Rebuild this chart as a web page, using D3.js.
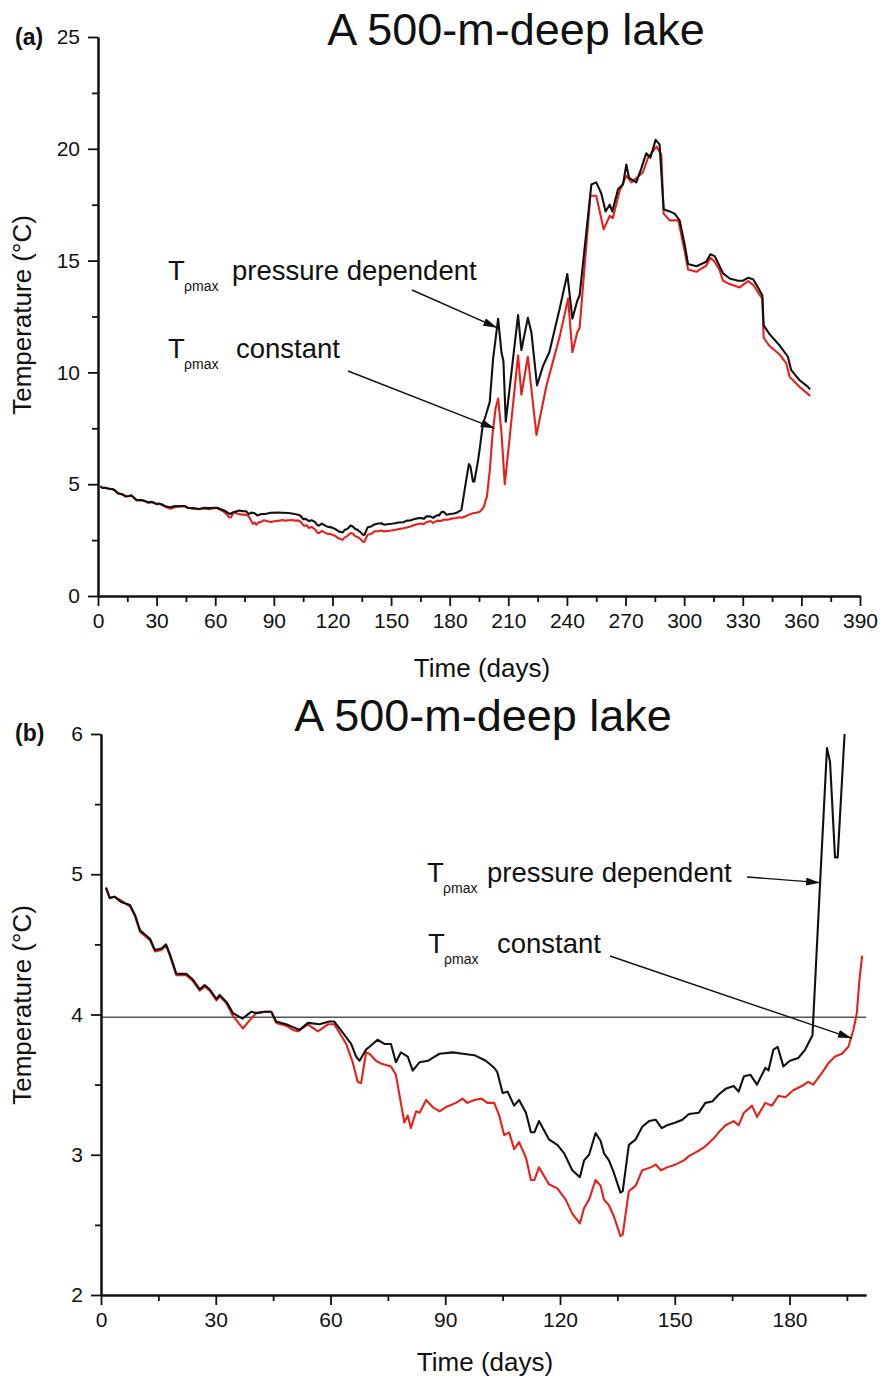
<!DOCTYPE html>
<html>
<head>
<meta charset="utf-8">
<script src="https://cdn.jsdelivr.net/npm/d3@7"></script>
<style>
  body { margin: 0; background: #fff; }
  svg { display: block; font-family: "Liberation Sans", Arial, sans-serif; }
</style>
</head>
<body>
<svg id="chart" width="882" height="1385"></svg>
<script>
// Simulated deep-water temperature of a 500-m-deep lake over one year.
// Series 1: temperature of maximum density depends on pressure.
const daysPressure = [1.3, 2.3, 3.5, 5.4, 7.6, 8.9, 10.2, 12.8, 14.1, 15.8, 17.0, 18.0, 19.7, 22.3, 24.0, 25.8, 27.1, 28.4, 30.2, 31.0,
  32.8, 34.5, 37.0, 39.3, 40.6, 42.8, 44.5, 45.8, 48.4, 50.2, 51.9, 54.1, 57.1, 59.7, 61.0, 63.2, 65.4, 66.7, 67.6, 69.3,
  70.2, 72.3, 74.1, 75.8, 77.1, 78.4, 80.2, 81.5, 83.3, 85.5, 86.7, 88.5, 92.0, 94.6, 97.6, 100.6, 102.8, 103.6, 105.0, 106.3,
  108.0, 109.3, 111.1, 112.4, 113.3, 114.5, 117.1, 119.3, 121.1, 123.2, 125.2, 126.3, 127.6, 129.3, 130.6, 131.5, 132.8, 134.1, 135.8, 136.4,
  138.0, 139.8, 141.5, 143.3, 145.0, 146.6, 148.0, 150.2, 152.0, 153.7, 156.3, 158.0, 159.8, 161.5, 163.3, 165.4, 166.7, 168.1, 169.8, 171.5,
  173.7, 174.5, 175.8, 176.9, 178.4, 180.1, 182.3, 184.1, 185.4, 186.0, 188.0, 189.8, 190.6, 191.9, 192.6, 194.4, 195.4, 197.0, 198.5, 200.5,
  202.2, 204.8, 206.5, 207.5, 208.7, 215.0, 216.7, 220.0, 221.8, 224.7, 227.8, 231.0, 236.3, 240.2, 242.8, 245.3, 246.5, 252.5, 255.0, 257.6,
  259.8, 261.9, 263.2, 266.2, 268.7, 270.4, 271.8, 275.5, 278.0, 280.6, 282.7, 285.4, 287.4, 289.5, 292.6, 295.1, 297.7, 300.3, 302.0, 306.3,
  311.3, 313.4, 315.6, 317.3, 319.9, 323.3, 327.6, 330.0, 332.7, 335.3, 337.8, 340.0, 340.7, 343.8, 348.9, 353.1, 354.8, 359.1, 363.4, 364.5];
const tempPressure = [4.905, 4.83, 4.84, 4.80, 4.78, 4.71, 4.60, 4.54, 4.46, 4.47, 4.50, 4.43, 4.29, 4.29, 4.25, 4.18, 4.21, 4.18, 4.11, 4.14,
  4.09, 4.01, 3.97, 4.02, 4.01, 4.02, 4.02, 3.95, 3.93, 3.91, 3.89, 3.94, 3.93, 3.95, 3.95, 3.87, 3.79, 3.70, 3.67, 3.75,
  3.77, 3.82, 3.79, 3.79, 3.66, 3.73, 3.70, 3.60, 3.66, 3.67, 3.69, 3.72, 3.73, 3.72, 3.71, 3.67, 3.62, 3.59, 3.44, 3.45,
  3.35, 3.39, 3.30, 3.16, 3.16, 3.24, 3.11, 3.07, 3.01, 2.89, 2.84, 2.96, 3.00, 3.155, 3.10, 3.01, 2.96, 2.87, 2.73, 2.74,
  3.07, 3.11, 3.20, 3.24, 3.25, 3.19, 3.21, 3.23, 3.25, 3.29, 3.30, 3.37, 3.38, 3.43, 3.47, 3.49, 3.45, 3.56, 3.57, 3.50,
  3.62, 3.60, 3.75, 3.77, 3.63, 3.67, 3.69, 3.75, 3.82, 3.85, 4.94, 5.90, 5.80, 5.12, 5.12, 6.00, 6.6, 7.7, 8.08, 8.68,
  10.6, 12.4, 10.9, 10.5, 7.8, 12.56, 11.0, 12.44, 11.8, 9.42, 10.3, 10.9, 12.86, 14.4, 12.4, 13.2, 13.45, 18.4, 18.5, 18.0,
  17.2, 17.5, 17.2, 18.2, 18.4, 19.3, 18.7, 18.5, 19.1, 19.8, 19.6, 20.4, 20.2, 17.3, 17.2, 17.1, 16.8, 15.7, 14.85, 14.75,
  14.95, 15.28, 15.2, 14.9, 14.43, 14.2, 14.1, 14.1, 14.23, 14.17, 13.8, 13.45, 12.1, 11.7, 11.2, 10.7, 10.1, 9.65, 9.35, 9.25];

// Series 2: temperature of maximum density held constant.
const daysConstant = [1.3, 2.3, 3.5, 5.4, 7.6, 8.9, 10.2, 12.8, 14.1, 15.8, 17.0, 18.0, 19.7, 22.3, 24.0, 25.8, 27.1, 28.4, 30.2, 31.0,
  32.8, 34.5, 37.1, 38.9, 40.6, 42.8, 44.5, 45.8, 48.4, 50.2, 51.5, 54.1, 56.7, 59.3, 61.0, 64.1, 65.8, 67.1, 68.0, 69.3,
  70.2, 71.9, 73.2, 75.8, 77.1, 79.3, 80.2, 81.0, 82.4, 83.3, 85.0, 86.7, 88.5, 90.2, 92.8, 94.5, 95.8, 97.6, 99.5, 101.0,
  102.8, 104.1, 105.4, 106.7, 108.0, 109.3, 111.1, 112.4, 113.3, 114.5, 117.1, 119.3, 121.5, 123.2, 125.2, 126.3, 127.6, 129.3, 130.6, 131.5,
  132.8, 134.1, 135.8, 136.4, 138.0, 139.8, 141.5, 143.7, 145.0, 146.4, 148.0, 150.2, 152.4, 153.7, 156.3, 158.0, 160.3, 161.5, 163.3, 165.4,
  166.7, 168.1, 170.2, 171.5, 173.7, 175.4, 177.1, 178.9, 181.0, 183.2, 184.9, 186.2, 188.4, 190.1, 191.9, 193.7, 195.4, 196.7, 197.6, 198.3,
  199.0, 200.5, 202.0, 203.5, 204.8, 206.5, 208.2, 210.0, 215.0, 216.7, 220.0, 224.4, 229.5, 236.3, 240.6, 242.8, 245.3, 246.5, 252.0, 255.0,
  258.8, 261.9, 263.5, 266.9, 270.4, 273.0, 278.9, 281.5, 285.8, 288.3, 289.5, 292.6, 297.0, 300.3, 302.0, 306.3, 307.9, 311.3, 313.4, 315.6,
  318.0, 319.9, 323.3, 328.4, 332.7, 335.5, 338.4, 340.0, 340.7, 343.8, 348.9, 352.3, 354.0, 359.1, 364.5];
const tempConstant = [4.905, 4.83, 4.84, 4.81, 4.77, 4.70, 4.59, 4.53, 4.45, 4.46, 4.49, 4.42, 4.28, 4.28, 4.24, 4.17, 4.20, 4.17, 4.10, 4.13,
  4.08, 3.99, 3.90, 3.96, 4.01, 4.02, 4.02, 3.94, 3.92, 3.89, 3.88, 3.93, 3.88, 3.93, 3.93, 3.79, 3.66, 3.52, 3.51, 3.73,
  3.72, 3.67, 3.65, 3.63, 3.57, 3.23, 3.28, 3.19, 3.31, 3.30, 3.39, 3.34, 3.31, 3.34, 3.37, 3.40, 3.37, 3.39, 3.40, 3.37,
  3.37, 3.28, 3.14, 3.16, 3.04, 3.09, 2.98, 2.82, 2.82, 2.91, 2.79, 2.76, 2.68, 2.58, 2.51, 2.62, 2.68, 2.82, 2.78, 2.68,
  2.64, 2.56, 2.42, 2.43, 2.74, 2.78, 2.89, 2.91, 2.93, 2.89, 2.91, 2.93, 2.96, 2.99, 3.03, 3.06, 3.12, 3.16, 3.21, 3.24,
  3.21, 3.30, 3.35, 3.27, 3.37, 3.35, 3.42, 3.41, 3.46, 3.49, 3.52, 3.50, 3.58, 3.65, 3.70, 3.72, 3.77, 3.89, 4.01, 4.25,
  4.42, 5.6, 7.3, 8.4, 8.83, 7.3, 5.0, 6.5, 10.77, 9.0, 10.7, 7.2, 9.4, 11.6, 13.3, 10.9, 11.8, 12.0, 17.9, 17.9,
  16.4, 17.0, 16.9, 18.1, 18.8, 18.5, 18.95, 19.6, 20.1, 19.75, 17.1, 16.8, 16.8, 15.4, 14.6, 14.5, 14.6, 14.77, 15.13, 14.95,
  14.6, 14.1, 13.95, 13.8, 14.08, 13.9, 13.5, 13.3, 11.55, 11.17, 10.8, 10.4, 9.8, 9.35, 8.95];

// Axis ticks
const xTicksFull = d3.range(0, 391, 30);
const xMinorFull = d3.range(15, 391, 30);
const yTicksFull = [0, 5, 10, 15, 20, 25];
const yMinorFull = [2.5, 7.5, 12.5, 17.5, 22.5];
const xTicksEarly = [0, 30, 60, 90, 120, 150, 180];
const xMinorEarly = d3.range(15, 200, 30);
const yTicksEarly = [2, 3, 4, 5, 6];
const yMinorEarly = [2.5, 3.5, 4.5, 5.5];
const densityMaxLine = 3.98;   // temperature of maximum density at the surface (°C)

const title = "A 500-m-deep lake";
const RED = "#e81f1a";
const BLACK = "#111";

const svg = d3.select("#chart");
const defs = svg.append("defs");
defs.append("marker")
  .attr("id", "arrow")
  .attr("viewBox", "0 0 14 8")
  .attr("refX", 14).attr("refY", 4)
  .attr("markerWidth", 14).attr("markerHeight", 8)
  .attr("markerUnits", "userSpaceOnUse")
  .attr("orient", "auto")
  .append("path").attr("d", "M0,0 L14,4 L0,8 Z").attr("fill", "#111");

const seriesP = daysPressure.map((d, i) => [d, tempPressure[i]]);
const seriesC = daysConstant.map((d, i) => [d, tempConstant[i]]);

function panel(cfg) {
  const g = svg.append("g");
  const x = d3.scaleLinear().domain(cfg.xDomain).range(cfg.xRange);
  const y = d3.scaleLinear().domain(cfg.yDomain).range(cfg.yRange);
  const axisY0 = cfg.yRange[0];
  const axisX0 = cfg.xRange[0];

  // clipping window for the curves
  defs.append("clipPath").attr("id", cfg.id + "-clip")
    .append("rect")
    .attr("x", cfg.xRange[0]).attr("y", cfg.yRange[1])
    .attr("width", cfg.xRange[1] - cfg.xRange[0])
    .attr("height", cfg.yRange[0] - cfg.yRange[1]);

  // reference line
  if (cfg.refLine !== undefined) {
    g.append("line")
      .attr("x1", x(cfg.xDomain[0])).attr("x2", x(cfg.xDomain[1]))
      .attr("y1", y(cfg.refLine)).attr("y2", y(cfg.refLine))
      .attr("stroke", "#555").attr("stroke-width", 1.5);
  }

  const line = d3.line().x(d => x(d[0])).y(d => y(d[1]));
  const plot = g.append("g").attr("clip-path", `url(#${cfg.id}-clip)`);
  const keep = d => d[0] <= cfg.dataMax;
  plot.append("path").datum(seriesC.filter(keep))
    .attr("d", line).attr("fill", "none")
    .attr("stroke", RED).attr("stroke-width", 2.1).attr("stroke-linejoin", "round");
  plot.append("path").datum(seriesP.filter(keep))
    .attr("d", line).attr("fill", "none")
    .attr("stroke", BLACK).attr("stroke-width", 2.1).attr("stroke-linejoin", "round");

  // axes
  const styleAxis = sel => {
    sel.selectAll("path.domain").attr("stroke", "#111").attr("stroke-width", 2);
    sel.selectAll(".tick line").attr("stroke", "#111").attr("stroke-width", 1.8);
    sel.selectAll(".tick text").attr("fill", "#111").style("font-size", "21px")
      .style("font-family", '"Liberation Sans", Arial, sans-serif');
  };
  g.append("g").attr("transform", `translate(0,${axisY0})`)
    .call(d3.axisBottom(x).tickValues(cfg.xMinor).tickSize(6).tickSizeOuter(0).tickFormat(""))
    .call(styleAxis);
  g.append("g").attr("transform", `translate(0,${axisY0})`)
    .call(d3.axisBottom(x).tickValues(cfg.xTicks).tickSize(10).tickSizeOuter(0).tickPadding(7).tickFormat(d3.format("d")))
    .call(styleAxis);
  g.append("g").attr("transform", `translate(${axisX0},0)`)
    .call(d3.axisLeft(y).tickValues(cfg.yMinor).tickSize(6).tickSizeOuter(0).tickFormat(""))
    .call(styleAxis);
  g.append("g").attr("transform", `translate(${axisX0},0)`)
    .call(d3.axisLeft(y).tickValues(cfg.yTicks).tickSize(10).tickSizeOuter(0).tickPadding(8).tickFormat(d3.format("d")))
    .call(styleAxis);

  // titles and labels
  g.append("text").attr("x", cfg.titleX).attr("y", cfg.titleY)
    .attr("text-anchor", "middle").style("font-size", "45px").attr("fill", "#111").text(title);
  g.append("text").attr("x", 15).attr("y", cfg.tagY)
    .style("font-size", "23px").style("font-weight", "bold").attr("fill", "#111").text(cfg.tag);
  g.append("text").attr("x", cfg.xLabelX).attr("y", cfg.xLabelY)
    .attr("text-anchor", "middle").style("font-size", "26px").attr("fill", "#111").text("Time (days)");
  g.append("text")
    .attr("transform", `translate(31,${cfg.yLabelY}) rotate(-90)`)
    .attr("text-anchor", "middle").style("font-size", "26px").attr("fill", "#111").text("Temperature (°C)");

  // annotations
  cfg.notes.forEach(n => {
    g.append("text").attr("x", n.tx).attr("y", n.ty)
      .style("font-size", "27.5px").attr("fill", "#111").text("T");
    g.append("text").attr("x", n.tx + 16).attr("y", n.ty + 11)
      .style("font-size", "14px").attr("fill", "#111").text("ρmax");
    g.append("text").attr("x", n.labelX).attr("y", n.ty)
      .style("font-size", "27.5px").attr("fill", "#111").text(n.label);
    g.append("line")
      .attr("x1", n.from[0]).attr("y1", n.from[1])
      .attr("x2", x(n.to[0])).attr("y2", y(n.to[1]))
      .attr("stroke", "#111").attr("stroke-width", 1.4)
      .attr("marker-end", "url(#arrow)");
  });
}

panel({
  id: "full", tag: "(a)",
  xDomain: [0, 390], xRange: [98, 860],
  yDomain: [0, 25], yRange: [596, 37],
  xTicks: xTicksFull, xMinor: xMinorFull, yTicks: yTicksFull, yMinor: yMinorFull,
  dataMax: 400,
  titleX: 516, titleY: 45, tagY: 45,
  xLabelX: 482, xLabelY: 677, yLabelY: 315,
  notes: [
    { tx: 168, ty: 280, labelX: 232, label: "pressure dependent", from: [412, 290], to: [204.3, 12.0] },
    { tx: 168, ty: 358, labelX: 236, label: "constant", from: [348, 371], to: [203.0, 7.5] }
  ]
});

panel({
  id: "early", tag: "(b)",
  xDomain: [0, 200], xRange: [101, 866],
  yDomain: [2, 6], yRange: [1295, 734],
  xTicks: xTicksEarly, xMinor: xMinorEarly, yTicks: yTicksEarly, yMinor: yMinorEarly,
  dataMax: 199,
  refLine: densityMaxLine,
  titleX: 483, titleY: 731, tagY: 741,
  xLabelX: 485, xLabelY: 1371, yLabelY: 1005,
  notes: [
    { tx: 427, ty: 882, labelX: 487, label: "pressure dependent", from: [747, 877], to: [188.0, 4.94] },
    { tx: 428, ty: 953, labelX: 497, label: "constant", from: [610, 956], to: [196.3, 3.83] }
  ]
});
</script>
</body>
</html>
